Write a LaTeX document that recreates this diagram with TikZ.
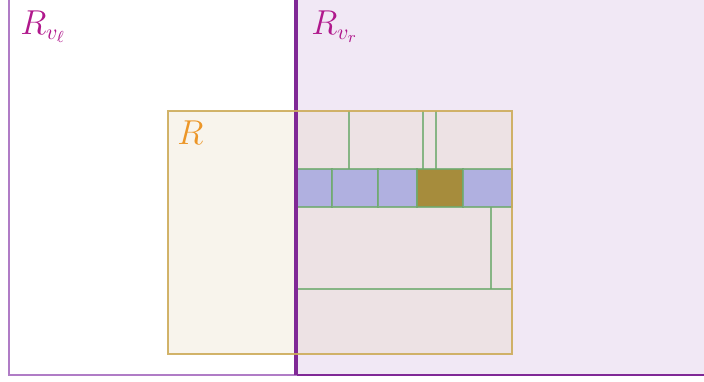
\documentclass[tikz,border=0pt]{standalone}
\usepackage{amsmath, amssymb}
\usepackage{xcolor}
\usetikzlibrary{positioning}

\definecolor{leafline}{RGB}{176,124,198}
\definecolor{leafright}{RGB}{241,232,245}
\definecolor{leafrightline}{RGB}{128,40,150}
\definecolor{qfill}{RGB}{227,211,179}
\definecolor{qline}{RGB}{205,172,90}
\definecolor{cellgreen}{RGB}{110,170,110}
\definecolor{cellblue}{RGB}{176,176,224}
\definecolor{cellbrown}{RGB}{166,140,60}
\definecolor{vlabel}{RGB}{176,24,140}
\definecolor{qlabel}{RGB}{236,150,40}

\begin{document}
\begin{tikzpicture}[x=0.5pt, y=-0.5pt, every node/.style={font=\fontsize{16pt}{19pt}\selectfont}]
  \tikzset{
    leaf/.style={draw=leafline, line width=1pt},
    leafr/.style={draw=leafrightline, fill=leafright, line width=1pt},
    query/.style={draw=qline, line width=0.9pt, opacity=0.9},
    cell/.style={draw=cellgreen, line width=0.7pt, draw opacity=0.8},
    bluecell/.style={cell, fill=cellblue},
    hitcell/.style={cell, fill=cellbrown},
    vname/.style={text=vlabel, anchor=north west, inner sep=0pt},
  }
  \useasboundingbox (0,0) rectangle (704,381);
  \clip (0,0) rectangle (704,381);

  %% ===== children of v =====
  \draw[leafr] (296,-20) rectangle (730,375);
  \draw[leaf] (9,-20) rectangle (296,375);
  \node[vname] (vl) at (20,10) {$R_{v_\ell}$};
  \node[vname] (vr) at (311,10) {$R_{v_r}$};

  %% ===== query range =====
  \fill[qfill, opacity=0.25] (168,111) rectangle (512,354);

  % cells of the right child inside the query
  \draw[cell] (349,111) -- (349,169);
  \draw[cell] (423,111) -- (423,169);
  \draw[cell] (436,111) -- (436,169);
  \draw[bluecell] (296,169) rectangle (332,207);
  \draw[bluecell] (332,169) rectangle (378,207);
  \draw[bluecell] (378,169) rectangle (417,207);
  \draw[hitcell] (417,169) rectangle (463,207);
  \draw[bluecell] (463,169) rectangle (512,207);
  \draw[cell] (491,207) -- (491,289);
  \draw[cell] (296,289) -- (512,289);

  \draw[leafrightline, line width=1.6pt] (296,-20) -- (296,375);
  \draw[query] (168,111) rectangle (512,354);
  \node[text=qlabel, anchor=north west, inner sep=0pt] (q) at (177,120) {$R$};
\end{tikzpicture}
\end{document}
